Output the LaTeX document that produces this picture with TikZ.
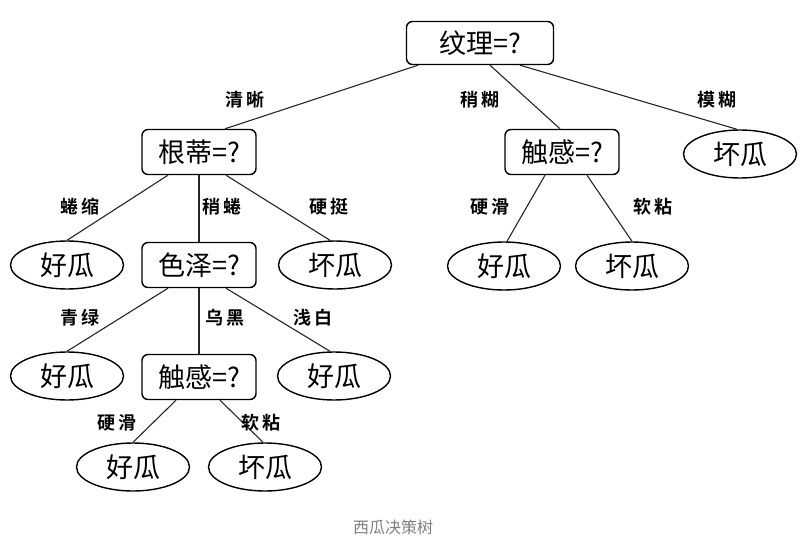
\documentclass[tikz,border=0pt]{standalone}
\usepackage{fontspec}
\newfontfamily\cjk{Noto Sans CJK SC}
\newfontfamily\cjkb{Noto Sans CJK SC Bold}
\newcommand{\lbl}[2]{#1\hspace{3pt}#2}
\usetikzlibrary{shapes.geometric}
\begin{document}
\begin{tikzpicture}[x=1pt,y=-1pt,
  decision/.style={draw, line width=1.4pt, rounded corners=6pt, minimum width=114pt, minimum height=45pt, inner sep=0pt, font=\cjk\fontsize{27}{29}\selectfont},
  leaf/.style={draw, ellipse, line width=1.4pt, minimum width=113pt, minimum height=48pt, inner sep=0pt, font=\cjk\fontsize{27}{29}\selectfont},
  branch/.style={font=\cjkb\fontsize{18}{20}\selectfont, inner sep=0pt},
  edge/.style={line width=1.1pt, draw=black!85}]
\useasboundingbox (0,0) rectangle (807,549);
\fill[white] (0,0) rectangle (807,549);
% nodes
\node[decision, minimum width=147pt, minimum height=43pt] (root) at (480,43) {纹理=?};
\node[decision] (gen) at (199,152) {根蒂=?};
\node[decision] (chuR) at (562,152) {触感=?};
\node[leaf] (badR) at (740,154) {坏瓜};
\node[leaf] (goodA) at (67,265) {好瓜};
\node[decision] (se) at (199,265) {色泽=?};
\node[leaf] (badA) at (335,265) {坏瓜};
\node[leaf] (goodR) at (504,266) {好瓜};
\node[leaf] (badR2) at (632,266) {坏瓜};
\node[leaf] (goodB) at (67,376) {好瓜};
\node[decision] (chu) at (199,377) {触感=?};
\node[leaf] (goodC) at (334,376) {好瓜};
\node[leaf] (goodD) at (133,467) {好瓜};
\node[leaf] (badD) at (265,467) {坏瓜};
% edges
\draw[edge] ([xshift=-62pt]root.south) -- ([xshift=26pt]gen.north);
\draw[edge] ([xshift=10pt]root.south) -- ([xshift=-2pt]chuR.north);
\draw[edge] ([xshift=40pt]root.south) -- ([xshift=-3pt]badR.north);
\draw[edge] ([xshift=-31pt]gen.south) -- (goodA.north);
\draw[edge] (gen.south) -- (se.north);
\draw[edge] ([xshift=27pt]gen.south) -- ([xshift=-5pt]badA.north);
\draw[edge] ([xshift=-31pt]se.south) -- (goodB.north);
\draw[edge] (se.south) -- (chu.north);
\draw[edge] ([xshift=27pt]se.south) -- ([xshift=-4pt]goodC.north);
\draw[edge] ([xshift=-23pt]chu.south) -- (goodD.north);
\draw[edge] ([xshift=21pt]chu.south) -- ([xshift=-2pt]badD.north);
\draw[edge] ([xshift=-17pt]chuR.south) -- ([xshift=3pt]goodR.north);
\draw[edge] ([xshift=25pt]chuR.south) -- (badR2.north);
% branch labels
\node[branch] (l1) at (245,100) {\lbl{清}{晰}};
\node[branch] (l2) at (480,100) {\lbl{稍}{糊}};
\node[branch] (l3) at (717,100) {\lbl{模}{糊}};
\node[branch] (l4) at (80,207) {\lbl{蜷}{缩}};
\node[branch] (l5) at (222,207) {\lbl{稍}{蜷}};
\node[branch] (l6) at (329,207) {\lbl{硬}{挺}};
\node[branch] (l7) at (80,318) {\lbl{青}{绿}};
\node[branch] (l8) at (225,318) {\lbl{乌}{黑}};
\node[branch] (l9) at (313,318) {\lbl{浅}{白}};
\node[branch] (l10) at (117,423) {\lbl{硬}{滑}};
\node[branch] (l11) at (261,423) {\lbl{软}{粘}};
\node[branch] (l12) at (490,207) {\lbl{硬}{滑}};
\node[branch] (l13) at (653,207) {\lbl{软}{粘}};
% caption
\node[font=\cjk\fontsize{16}{18}\selectfont, text=black!50, inner sep=0pt] (cap) at (393,527) {西瓜决策树};
\end{tikzpicture}
\end{document}
